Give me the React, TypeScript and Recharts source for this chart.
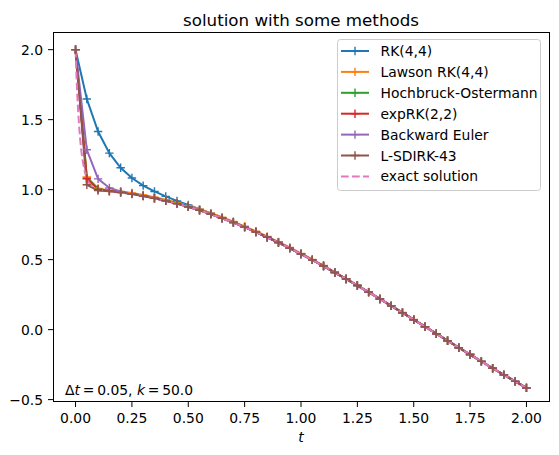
import { LineChart, Line, XAxis, YAxis } from "recharts";

/* ---------------- Data ---------------- */

const T = [
  0, 0.05, 0.1, 0.15, 0.2, 0.25, 0.3, 0.35, 0.4, 0.45, 0.5, 0.55, 0.6, 0.65, 0.7, 0.75, 0.8, 0.85, 0.9, 0.95, 1.0,
  1.05, 1.1, 1.15, 1.2, 1.25, 1.3, 1.35, 1.4, 1.45, 1.5, 1.55, 1.6, 1.65, 1.7, 1.75, 1.8, 1.85, 1.9, 1.95, 2.0,
];

// tail shared by the methods once the transient is gone (t >= 0.5)
const TAIL = [
  0.878, 0.853, 0.825, 0.796, 0.765, 0.732, 0.697, 0.66, 0.622, 0.582, 0.54, 0.498, 0.454, 0.408, 0.362, 0.315,
  0.268, 0.219, 0.17, 0.121, 0.071, 0.021, -0.029, -0.079, -0.129, -0.178, -0.227, -0.276, -0.323, -0.37, -0.416,
];

const RK44 = [
  2.0, 1.647, 1.415, 1.261, 1.156, 1.083, 1.029, 0.987, 0.952, 0.92, 0.891, 0.861, 0.831, 0.8, 0.767, 0.733, 0.698,
  0.66, 0.622, 0.582, 0.54, 0.498, 0.454, 0.408, 0.362, 0.315, 0.268, 0.219, 0.17, 0.121, 0.071, 0.021, -0.029,
  -0.079, -0.129, -0.178, -0.227, -0.276, -0.323, -0.37, -0.416,
];

const LAWSON = [
  2.0, 1.09, 1.008, 0.994, 0.986, 0.976, 0.962, 0.946, 0.928, 0.907, 0.885, 0.86, 0.832, 0.803, 0.772, 0.738, 0.703,
  0.666, 0.627, 0.587, 0.545, 0.502, 0.458, 0.411, 0.364, 0.317, 0.269, 0.22, 0.171, 0.122, 0.072, 0.021, -0.029,
  -0.079, -0.129, -0.178, -0.227, -0.276, -0.323, -0.37, -0.416,
];

const HOCHBRUCK = [2.0, 1.082, 1.004, 0.991, 0.981, 0.97, 0.956, 0.94, 0.922, 0.901, ...TAIL];
const EXPRK22 = [2.0, 1.078, 1.002, 0.99, 0.981, 0.97, 0.955, 0.939, 0.921, 0.9, ...TAIL];
const BACKWARD_EULER = [2.0, 1.285, 1.077, 1.012, 0.987, 0.971, 0.956, 0.939, 0.921, 0.9, ...TAIL];
const LSDIRK43 = [2.0, 1.035, 0.993, 0.988, 0.98, 0.969, 0.955, 0.939, 0.921, 0.9, ...TAIL];

// exact solution is drawn on a finer grid near t = 0
const EXACT_T = [
  0, 0.0025, 0.005, 0.0075, 0.01, 0.015, 0.02, 0.025, 0.03, 0.04, 0.05, 0.06, 0.08, 0.1, 0.15, 0.2, 0.25, 0.3, 0.35,
  0.4, 0.45, ...T.slice(10),
];
const EXACT_Y = [
  2.0, 1.883, 1.779, 1.687, 1.606, 1.472, 1.368, 1.286, 1.223, 1.135, 1.081, 1.048, 1.015, 1.002, 0.989, 0.98, 0.969,
  0.955, 0.939, 0.921, 0.9, ...TAIL,
];

const X_TICKS = [0, 0.25, 0.5, 0.75, 1.0, 1.25, 1.5, 1.75, 2.0];
const Y_TICKS = [-0.5, 0, 0.5, 1.0, 1.5, 2.0];

const SERIES = [
  { name: "RK(4,4)", values: RK44, color: "#1f77b4" },
  { name: "Lawson RK(4,4)", values: LAWSON, color: "#ff7f0e" },
  { name: "Hochbruck-Ostermann", values: HOCHBRUCK, color: "#2ca02c" },
  { name: "expRK(2,2)", values: EXPRK22, color: "#d62728" },
  { name: "Backward Euler", values: BACKWARD_EULER, color: "#9467bd" },
  { name: "L-SDIRK-43", values: LSDIRK43, color: "#8c564b" },
];
const EXACT_COLOR = "#e377c2";

const FONT = "'DejaVu Sans', sans-serif";
const FS = 13.9;

const fmt = (digits: number) => (v: number) => v.toFixed(digits).replace("-", "\u2212");

function plusDot(color: string) {
  return (props: any) => {
    const { cx, cy, index } = props;
    if (cx == null || cy == null) return <g key={index} />;
    const r = 4.2;
    return (
      <path
        key={index}
        d={`M${cx - r},${cy}H${cx + r}M${cx},${cy - r}V${cy + r}`}
        stroke={color}
        strokeWidth={1.4}
        fill="none"
      />
    );
  };
}

export default function App() {
  const rows = (vals: number[]) => T.map((t, i) => ({ t, y: vals[i] }));
  const exactRows = EXACT_T.map((t, i) => ({ t, y: EXACT_Y[i] }));

  const legendItems = [...SERIES.map((s) => ({ name: s.name, color: s.color, dashed: false })),
    { name: "exact solution", color: EXACT_COLOR, dashed: true }];

  return (
    <div style={{ position: "absolute", left: 0, top: 0, width: 559, height: 455, background: "#fff" }}>
      <LineChart width={559} height={455} margin={{ top: 33, right: 10, bottom: 23, left: 8 }}>
        <XAxis
          dataKey="t"
          type="number"
          domain={[-0.1, 2.1]}
          allowDataOverflow
          ticks={X_TICKS}
          tickFormatter={fmt(2)}
          height={30}
          axisLine={false}
          tickLine={{ stroke: "#000", strokeWidth: 1 }}
          tickSize={5}
          tickMargin={6}
          tick={{ fill: "#000", fontSize: FS, fontFamily: FONT }}
        />
        <YAxis
          type="number"
          domain={[-0.517, 2.119]}
          allowDataOverflow
          ticks={Y_TICKS}
          tickFormatter={fmt(1)}
          width={45}
          axisLine={false}
          tickLine={{ stroke: "#000", strokeWidth: 1 }}
          tickSize={5}
          tickMargin={5}
          tick={{ fill: "#000", fontSize: FS, fontFamily: FONT }}
        />
        {SERIES.map((s) => (
          <Line
            key={s.name}
            data={rows(s.values)}
            dataKey="y"
            type="linear"
            stroke={s.color}
            strokeWidth={2}
            dot={plusDot(s.color)}
            activeDot={false}
            isAnimationActive={false}
          />
        ))}
        <Line
          data={exactRows}
          dataKey="y"
          type="linear"
          stroke={EXACT_COLOR}
          strokeWidth={2}
          strokeDasharray="7.7 3.3"
          dot={false}
          activeDot={false}
          isAnimationActive={false}
        />
      </LineChart>

      {/* frame, title, labels and legend on top */}
      <svg
        width={559}
        height={455}
        style={{ position: "absolute", left: 0, top: 0, pointerEvents: "none" }}
        fontFamily={FONT}
      >
        <rect x={53.5} y={32.5} width={496} height={369} fill="none" stroke="#000" strokeWidth={1} />
        <text x={301} y={26} textAnchor="middle" fontSize={16.7} fill="#000">
          solution with some methods
        </text>
        <text x={301} y={442} textAnchor="middle" fontSize={FS} fontStyle="italic" fill="#000">
          t
        </text>
        <text x={65} y={395} fontSize={FS} fill="#000">
          Δ<tspan fontStyle="italic">t</tspan>{"\u2009=\u20090.05, "}<tspan fontStyle="italic">k</tspan>{"\u2009=\u200950.0"}
        </text>

        <rect x={337.5} y={39.5} width={203} height={151} rx={3} fill="#fff" fillOpacity={0.8} stroke="#cccccc" />
        {legendItems.map((it, i) => {
          const cy = 51 + i * 20.9;
          return (
            <g key={it.name}>
              <line
                x1={341}
                x2={369}
                y1={cy}
                y2={cy}
                stroke={it.color}
                strokeWidth={2}
                strokeDasharray={it.dashed ? "7.7 3.3" : undefined}
              />
              {!it.dashed && (
                <path d={`M${355 - 4.2},${cy}H${355 + 4.2}M355,${cy - 4.2}V${cy + 4.2}`} stroke={it.color} strokeWidth={1.4} />
              )}
              <text x={380.5} y={cy + 5} fontSize={FS} fill="#000">
                {it.name}
              </text>
            </g>
          );
        })}
      </svg>
    </div>
  );
}
